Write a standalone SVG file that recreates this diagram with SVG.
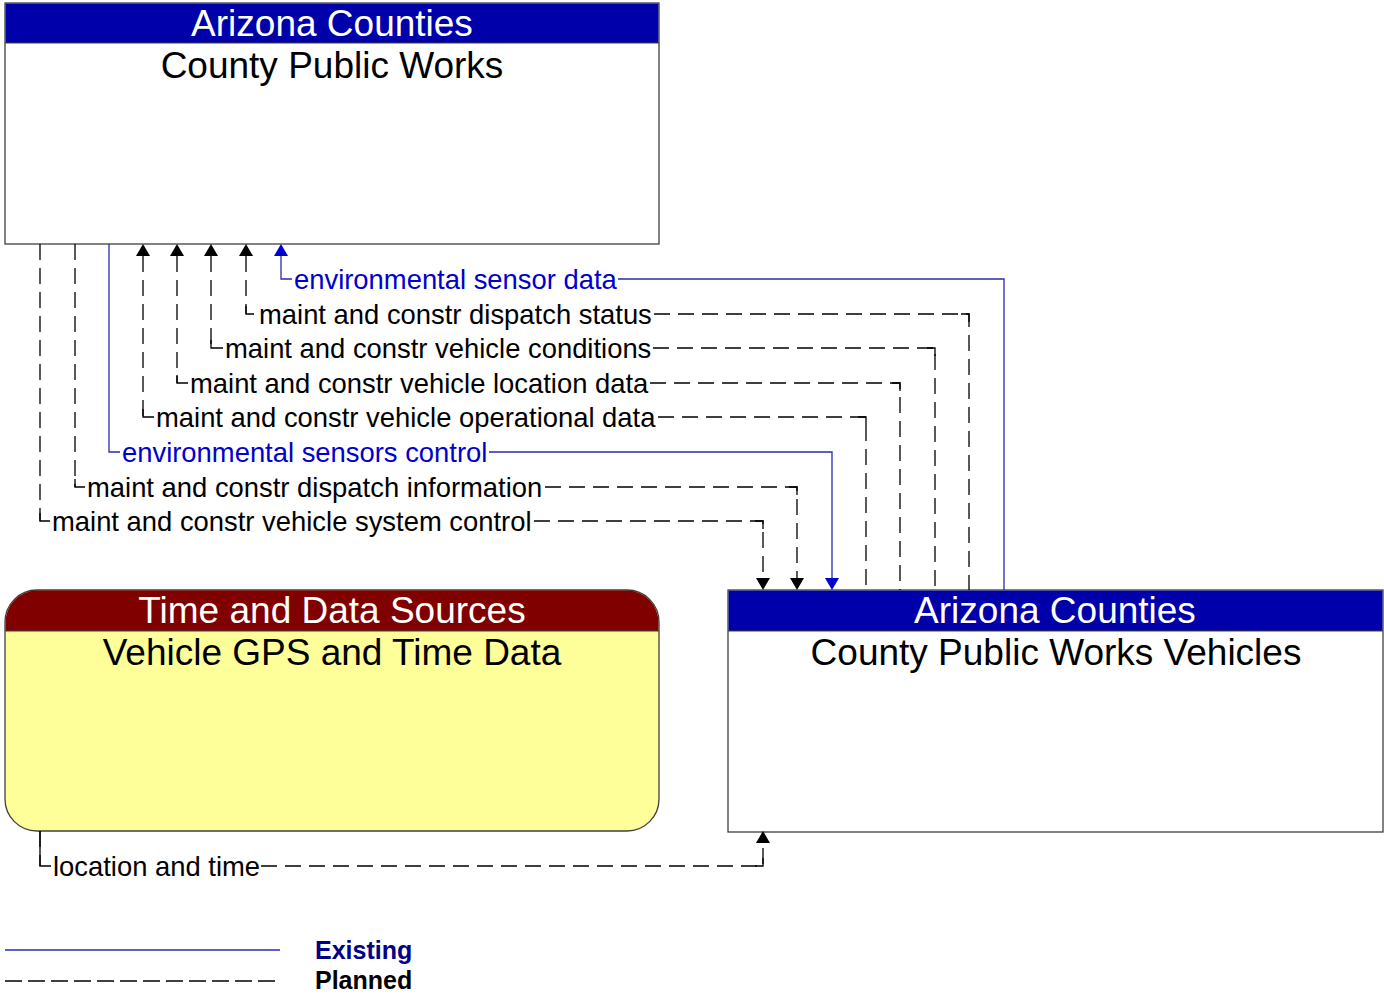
<svg xmlns="http://www.w3.org/2000/svg" width="1384" height="994" viewBox="0 0 1384 994">
<style>
.box{fill:#ffffff;stroke:#404040;stroke-width:1.3}
.hdr{fill:#0000AA}
.hdrr{fill:#800000}
.ttl{font-family:"Liberation Sans",Arial,sans-serif;font-size:37px;text-anchor:middle}
.w{fill:#ffffff}
.k{fill:#000000}
.lbl{font-family:"Liberation Sans",Arial,sans-serif;font-size:27.4px}
.pl{fill:none;stroke:#000000;stroke-width:1.3;stroke-dasharray:16 8}
.st{fill:none;stroke:#000000;stroke-width:1.3}
.ex{fill:none;stroke:#2a2ab0;stroke-width:1.3}
.ah{fill:#000000}
.ahb{fill:#0000CC}
.bt{fill:#0000CC}
.leg{font-family:"Liberation Sans",Arial,sans-serif;font-size:25px;font-weight:bold}
</style>

<g id="node-county-public-works">
<rect class="box" x="5" y="3" width="654" height="241"/>
<rect class="hdr" x="5.6" y="3.6" width="652.8" height="39.4"/>
<line x1="5" y1="43" x2="659" y2="43" stroke="#404040" stroke-width="1"/>
<text class="ttl w" x="332" y="36">Arizona Counties</text>
<text class="ttl k" x="332" y="78">County Public Works</text>
</g>

<g id="node-vehicle-gps">
<rect x="5" y="590" width="654" height="241" rx="32" ry="32" fill="#FFFF99" stroke="#404040" stroke-width="1.3"/>
<path class="hdrr" d="M5.6,631 V622 A31.4,31.4 0 0 1 37,590.6 H627 A31.4,31.4 0 0 1 658.4,622 V631 Z"/>
<line x1="5" y1="631" x2="659" y2="631" stroke="#404040" stroke-width="1"/>
<text class="ttl w" x="332" y="623">Time and Data Sources</text>
<text class="ttl k" x="332" y="665">Vehicle GPS and Time Data</text>
</g>

<g id="node-county-public-works-vehicles">
<rect class="box" x="728" y="590" width="655" height="242"/>
<rect class="hdr" x="728.6" y="590.6" width="653.8" height="40.4"/>
<line x1="728" y1="631" x2="1383" y2="631" stroke="#404040" stroke-width="1"/>
<text class="ttl w" x="1055" y="623">Arizona Counties</text>
<text class="ttl k" x="1056" y="665">County Public Works Vehicles</text>
</g>

<g id="connectors">
<!-- maint and constr vehicle system control -->
<path class="pl" d="M40,244 V521 M534,521 H763 V578"/>
<path class="st" d="M40,513 V521 H50 M755,521 H763 V529"/>
<polygon class="ah" points="756,578 770,578 763,590"/>
<text class="lbl k" x="52" y="530.5">maint and constr vehicle system control</text>
<!-- maint and constr dispatch information -->
<path class="pl" d="M75,244 V487 M545,487 H797 V578"/>
<path class="st" d="M75,479 V487 H85 M789,487 H797 V495"/>
<polygon class="ah" points="790,578 804,578 797,590"/>
<text class="lbl k" x="87" y="496.5">maint and constr dispatch information</text>
<!-- environmental sensors control -->
<path class="ex" d="M109,244 V452 H120 M489,452 H832 V578"/>
<polygon class="ahb" points="825,578 839,578 832,590"/>
<text class="lbl bt" x="122" y="461.5">environmental sensors control</text>
<!-- maint and constr vehicle operational data -->
<path class="pl" d="M143,256 V417 M658,417 H866 V590"/>
<path class="st" d="M143,409 V417 H154 M858,417 H866 V425"/>
<polygon class="ah" points="136,256 150,256 143,244"/>
<text class="lbl k" x="156" y="426.5">maint and constr vehicle operational data</text>
<!-- maint and constr vehicle location data -->
<path class="pl" d="M177,256 V383 M650,383 H900 V590"/>
<path class="st" d="M177,375 V383 H188 M892,383 H900 V391"/>
<polygon class="ah" points="170,256 184,256 177,244"/>
<text class="lbl k" x="190" y="392.5">maint and constr vehicle location data</text>
<!-- maint and constr vehicle conditions -->
<path class="pl" d="M211,256 V348 M653,348 H935 V590"/>
<path class="st" d="M211,340 V348 H223 M927,348 H935 V356"/>
<polygon class="ah" points="204,256 218,256 211,244"/>
<text class="lbl k" x="225" y="357.5">maint and constr vehicle conditions</text>
<!-- maint and constr dispatch status -->
<path class="pl" d="M246,256 V314 M654,314 H969 V590"/>
<path class="st" d="M246,306 V314 H254 M961,314 H969 V322"/>
<polygon class="ah" points="239,256 253,256 246,244"/>
<text class="lbl k" x="259" y="323.5">maint and constr dispatch status</text>
<!-- environmental sensor data -->
<path class="ex" d="M281,256 V279 H292 M618,279 H1004 V590"/>
<polygon class="ahb" points="274,256 288,256 281,244"/>
<text class="lbl bt" x="294" y="288.5">environmental sensor data</text>
<!-- location and time -->
<path class="pl" d="M40,831 V866 M261,866 H763 V843"/>
<path class="st" d="M40,831 V866 H51 M755,866 H763 V858"/>
<polygon class="ah" points="756,843 770,843 763,831"/>
<text class="lbl k" x="53" y="875.5">location and time</text>
</g>

<g id="legend">
<line x1="5" y1="950" x2="280" y2="950" stroke="#2a2ab0" stroke-width="1.3"/>
<line x1="5" y1="981" x2="275" y2="981" stroke="#000000" stroke-width="1.3" stroke-dasharray="17 6"/>
<text class="leg" x="315" y="959" fill="#000088">Existing</text>
<text class="leg" x="315" y="989" fill="#000000">Planned</text>
</g>
</svg>
